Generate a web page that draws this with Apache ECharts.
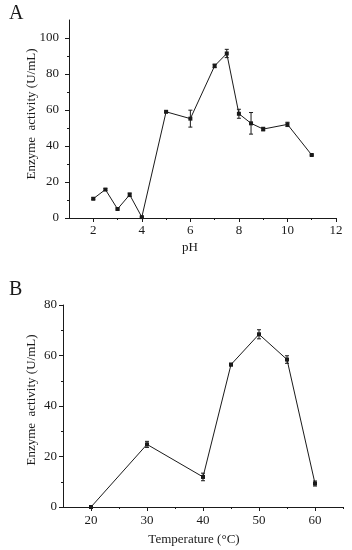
<!DOCTYPE html>
<html>
<head>
<meta charset="utf-8">
<script src="https://cdn.jsdelivr.net/npm/echarts@6/dist/echarts.min.js"></script>
<style>html,body{margin:0;padding:0;background:#fff;}#c{width:352px;height:550px;}</style>
</head>
<body>
<div id="c"></div>
<script>
// Panel A: pH
const phValues = [2, 2.5, 3, 3.5, 4, 5, 6, 7, 7.5, 8, 8.5, 9, 10, 11];
const phActivity = [10.7, 15.8, 5.0, 12.9, 0.5, 59.0, 55.2, 84.5, 91.4, 57.9, 52.6, 49.4, 52.0, 35.0];
const phError = [0.5, 0.5, 0.5, 1.0, 0.3, 0.4, 4.7, 1.0, 2.3, 2.5, 6.0, 1.0, 1.2, 0.4];
const phXLabels = [2, 4, 6, 8, 10, 12];
const phXMinor = [3, 5, 7, 9, 11];
const phYLabels = [0, 20, 40, 60, 80, 100];
const phYMinor = [10, 30, 50, 70, 90];

// Panel B: Temperature
const tempValues = [20, 30, 40, 45, 50, 55, 60];
const tempActivity = [0, 24.8, 11.9, 56.4, 68.4, 58.4, 9.3];
const tempError = [0.3, 1.2, 1.5, 0.5, 1.8, 1.5, 1.0];
const tempXLabels = [20, 30, 40, 50, 60];
const tempXMinor = [25, 35, 45, 55, 65];
const tempYLabels = [0, 20, 40, 60, 80];
const tempYMinor = [10, 30, 50, 70];

const FONT = '"Liberation Serif", "Times New Roman", serif';
const black = '#1a1a1a';

function pairs(xs, ys) { return xs.map((x, i) => [x, ys[i]]); }
function errData(xs, ys, es) { return xs.map((x, i) => [x, ys[i] - es[i], ys[i] + es[i]]); }

function errRender(params, api) {
  const x = api.value(0);
  const lo = api.coord([x, api.value(1)]);
  const hi = api.coord([x, api.value(2)]);
  const w = 2;
  const style = { stroke: black, lineWidth: 1 };
  return {
    type: 'group',
    children: [
      { type: 'line', shape: { x1: lo[0], y1: lo[1], x2: hi[0], y2: hi[1] }, style },
      { type: 'line', shape: { x1: lo[0] - w, y1: lo[1], x2: lo[0] + w, y2: lo[1] }, style },
      { type: 'line', shape: { x1: hi[0] - w, y1: hi[1], x2: hi[0] + w, y2: hi[1] }, style }
    ]
  };
}

function mainAxis(opts) {
  return Object.assign({
    type: 'value',
    axisLine: { show: true, lineStyle: { color: black, width: 1 } },
    axisTick: { show: true, length: 4, lineStyle: { color: black } },
    splitLine: { show: false },
    axisLabel: { color: black, fontFamily: FONT, fontSize: 13 }
  }, opts);
}
function minorAxis(opts) {
  return Object.assign({
    type: 'value',
    axisLine: { show: false },
    axisTick: { show: true, length: 2, lineStyle: { color: black } },
    splitLine: { show: false },
    axisLabel: { show: false }
  }, opts);
}

const chart = echarts.init(document.getElementById('c'), null, { renderer: 'canvas' });
chart.setOption({
  backgroundColor: '#fff',
  animation: false,
  grid: [
    { left: 69, top: 20, width: 267, height: 198 },
    { left: 63, top: 305, width: 280, height: 202 }
  ],
  xAxis: [
    mainAxis({ gridIndex: 0, min: 1, max: 12,
      axisTick: { show: true, length: 4, lineStyle: { color: black }, customValues: phXLabels },
      axisLabel: { color: black, fontFamily: FONT, fontSize: 13, margin: 6, customValues: phXLabels } }),
    minorAxis({ gridIndex: 0, min: 1, max: 12, position: 'bottom',
      axisTick: { show: true, length: 2, lineStyle: { color: black }, customValues: phXMinor } }),
    mainAxis({ gridIndex: 1, min: 15, max: 65,
      axisTick: { show: true, length: 4, lineStyle: { color: black }, customValues: tempXLabels },
      axisLabel: { color: black, fontFamily: FONT, fontSize: 13, margin: 7, customValues: tempXLabels } }),
    minorAxis({ gridIndex: 1, min: 15, max: 65, position: 'bottom',
      axisTick: { show: true, length: 2, lineStyle: { color: black }, customValues: tempXMinor } })
  ],
  yAxis: [
    mainAxis({ gridIndex: 0, min: 0, max: 110,
      axisTick: { show: true, length: 4, lineStyle: { color: black }, customValues: phYLabels },
      axisLabel: { color: black, fontFamily: FONT, fontSize: 13, margin: 10, customValues: phYLabels } }),
    minorAxis({ gridIndex: 0, min: 0, max: 110, position: 'left',
      axisTick: { show: true, length: 2, lineStyle: { color: black }, customValues: phYMinor } }),
    mainAxis({ gridIndex: 1, min: 0, max: 80,
      axisTick: { show: true, length: 4, lineStyle: { color: black }, customValues: tempYLabels },
      axisLabel: { color: black, fontFamily: FONT, fontSize: 13, margin: 6, customValues: tempYLabels } }),
    minorAxis({ gridIndex: 1, min: 0, max: 80, position: 'left',
      axisTick: { show: true, length: 2, lineStyle: { color: black }, customValues: tempYMinor } })
  ],
  series: [
    { type: 'line', xAxisIndex: 0, yAxisIndex: 0, data: pairs(phValues, phActivity),
      symbol: 'rect', symbolSize: 4, lineStyle: { color: black, width: 1 },
      itemStyle: { color: black }, z: 3 },
    { type: 'custom', xAxisIndex: 0, yAxisIndex: 0, data: errData(phValues, phActivity, phError),
      renderItem: errRender, z: 4 },
    { type: 'line', xAxisIndex: 2, yAxisIndex: 2, data: pairs(tempValues, tempActivity),
      symbol: 'rect', symbolSize: 4, lineStyle: { color: black, width: 1 },
      itemStyle: { color: black }, z: 3 },
    { type: 'custom', xAxisIndex: 2, yAxisIndex: 2, data: errData(tempValues, tempActivity, tempError),
      renderItem: errRender, z: 4 }
  ],
  graphic: [
    { type: 'text', left: 9, top: 4, style: { text: 'A', font: '20px ' + FONT, fill: black } },
    { type: 'text', left: 9, top: 280, style: { text: 'B', font: '20px ' + FONT, fill: black } },
    { type: 'text', x: 32, y: 114, rotation: Math.PI / 2,
      style: { text: 'Enzyme  activity (U/mL)', font: '13px ' + FONT, fill: black, align: 'center', verticalAlign: 'middle' } },
    { type: 'text', x: 190, y: 248,
      style: { text: 'pH', font: '13px ' + FONT, fill: black, align: 'center', verticalAlign: 'middle' } },
    { type: 'text', x: 32, y: 400, rotation: Math.PI / 2,
      style: { text: 'Enzyme  activity (U/mL)', font: '13px ' + FONT, fill: black, align: 'center', verticalAlign: 'middle' } },
    { type: 'text', x: 194, y: 540,
      style: { text: 'Temperature (°C)', font: '13px ' + FONT, fill: black, align: 'center', verticalAlign: 'middle' } }
  ]
});
</script>
</body>
</html>
